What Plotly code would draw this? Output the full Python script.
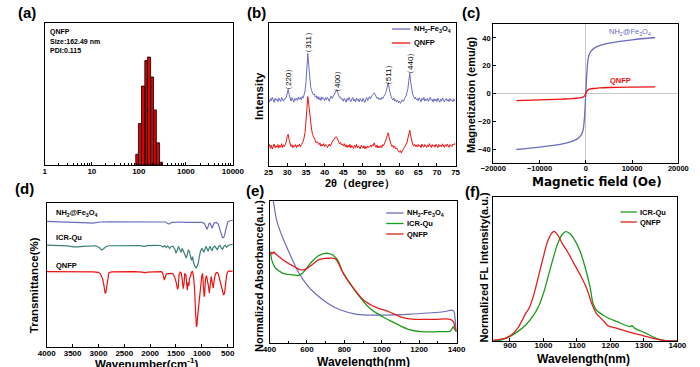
import plotly.graph_objects as go

W, H = 700, 367
def fx(p): return p / W
def fy(p): return 1 - p / H

ARIAL = "Liberation Sans, Arial, sans-serif"
DEJA = "DejaVu Sans, sans-serif"

# ---------------- (a) DLS size distribution ----------------
dls_bin_edges = [86, 98, 114, 134, 152, 178, 205, 236, 276, 318]
dls_intensity = [1.9, 7.3, 13.9, 18.4, 19.0, 15.5, 9.7, 3.9, 0.5]
dls_ticks = [1, 10, 100, 1000, 10000]
dls_info = ["QNFP", "Size:162.49 nm", "PDI:0.115"]

# ---------------- (b) XRD ----------------
xrd_two_theta = [25 + 0.25 * i for i in range(201)]
xrd_nh2 = [
    46.5, 44.8, 47.2, 45.6, 48.1, 46.0, 44.5, 47.4, 45.9, 46.8,
    44.9, 47.6, 46.2, 45.1, 48.0, 46.4, 45.3, 47.1, 46.9, 48.2,
    51.5, 53.6, 50.2, 47.0, 45.4, 47.8, 46.1, 44.7, 47.3, 46.0,
    47.5, 45.8, 48.3, 46.6, 47.9, 46.2, 48.6, 47.4, 49.8, 52.4,
    58.3, 68.5, 78.6, 70.4, 60.2, 55.4, 52.8, 51.0, 49.7, 50.4,
    48.2, 49.1, 47.0, 48.6, 46.3, 47.9, 45.8, 48.4, 46.9, 47.5,
    45.6, 47.8, 46.4, 48.1, 46.7, 45.2, 47.6, 48.9, 47.3, 48.4,
    49.5, 51.0, 52.6, 53.4, 51.2, 49.0, 47.8, 48.2, 46.4, 47.1,
    45.3, 47.4, 46.0, 44.6, 47.2, 45.8, 48.0, 46.3, 44.9, 46.7,
    47.9, 45.5, 46.8, 44.7, 47.5, 45.9, 46.9, 44.8, 47.2, 46.1,
    45.0, 47.3, 46.2, 44.4, 46.8, 47.9, 45.7, 47.4, 48.6, 47.0,
    48.8, 49.6, 50.4, 51.2, 50.0, 48.7, 47.2, 48.0, 46.5, 47.4,
    46.2, 48.1, 47.0, 48.5, 49.4, 50.6, 52.8, 55.9, 58.4, 54.1,
    50.3, 48.6, 47.2, 46.1, 47.5, 45.3, 46.4, 44.8, 45.9, 44.2,
    45.4, 43.8, 45.0, 46.3, 45.1, 47.0, 47.8, 48.9, 50.8, 54.2,
    59.8, 64.9, 58.6, 53.0, 50.4, 48.7, 47.1, 48.2, 46.3, 47.0,
    45.6, 47.8, 46.5, 45.0, 47.3, 46.1, 48.0, 45.4, 46.9, 45.8,
    47.4, 45.2, 46.7, 48.1, 45.9, 46.6, 44.7, 47.0, 45.5, 46.8,
    45.1, 47.5, 46.0, 44.6, 46.9, 45.3, 47.7, 46.2, 44.9, 46.5,
    47.2, 45.4, 46.6, 45.0, 47.1, 45.7, 46.3, 44.8, 46.9, 45.6,
    46.0]
xrd_qnfp = [
    13.2, 15.1, 12.4, 14.6, 11.8, 13.9, 15.4, 12.7, 14.2, 13.0,
    15.0, 12.6, 14.4, 13.1, 15.6, 12.9, 14.8, 13.6, 15.2, 17.0,
    20.8, 22.1, 18.4, 15.2, 13.6, 14.9, 12.8, 14.3, 13.4, 15.0,
    12.9, 14.6, 13.8, 15.3, 13.5, 14.9, 15.8, 17.2, 19.6, 23.5,
    30.8, 41.5, 48.5, 43.2, 35.6, 29.4, 25.8, 22.1, 20.6, 18.3,
    17.8, 16.2, 17.0, 15.4, 14.9, 16.1, 13.8, 15.2, 14.0, 15.6,
    13.6, 15.0, 14.3, 12.8, 14.7, 15.4, 13.9, 15.8, 16.7, 17.9,
    18.4, 19.6, 20.5, 19.9, 18.2, 17.0, 15.6, 16.4, 14.8, 15.5,
    14.1, 15.6, 13.4, 14.8, 12.9, 14.5, 13.2, 15.1, 12.6, 14.3,
    13.5, 12.2, 14.6, 13.0, 15.2, 12.8, 14.1, 13.4, 12.0, 14.4,
    13.1, 12.5, 14.2, 12.0, 13.7, 12.4, 14.0, 12.9, 13.5, 14.6,
    13.2, 15.0, 14.1, 16.2, 14.4, 13.0, 14.7, 12.6, 13.9, 12.8,
    14.3, 12.9, 15.0, 14.2, 15.9, 17.3, 19.0, 21.4, 23.2, 19.8,
    16.4, 15.2, 13.6, 14.5, 12.8, 13.7, 11.9, 12.6, 11.2, 10.4,
    9.6, 10.8, 9.1, 10.5, 11.6, 12.9, 13.8, 14.6, 16.3, 19.4,
    23.1, 25.0, 21.2, 17.5, 15.4, 14.1, 15.2, 13.6, 14.8, 13.3,
    15.0, 13.7, 14.5, 12.8, 15.3, 14.0, 13.2, 15.1, 14.4, 13.0,
    14.8, 13.4, 15.6, 14.1, 12.9, 15.0, 13.8, 14.6, 13.1, 15.2,
    14.0, 12.8, 15.1, 13.6, 14.7, 13.3, 15.5, 14.2, 13.0, 14.9,
    13.7, 15.3, 14.4, 13.1, 15.0, 14.3, 13.5, 15.4, 14.6, 15.8,
    15.2]
xrd_peak_labels = ["（220）", "（311）", "（400）", "（511）", "（440）"]
xrd_peak_pos = [30.2, 35.5, 43.3, 57.0, 62.8]
xrd_label_y = [60.8, 86.7, 58.7, 63.6, 72.0]

# ---------------- (c) VSM ----------------
vsm_field = [-15000, -10000, -5000, -3000, -2000, -1000, -600, -400, -200, -100, 0,
             100, 200, 400, 600, 1000, 2000, 3000, 5000, 10000, 15000]
vsm_nh2 = [-40.3, -38.6, -36.2, -34.5, -33.0, -30.0, -26.5, -22.0, -13.0, -6.5, 0,
           6.5, 13.0, 22.0, 26.5, 30.0, 33.0, 34.5, 36.2, 38.6, 40.3]
vsm_qnfp = [-5.1, -4.6, -4.0, -3.7, -3.4, -3.0, -2.6, -2.2, -1.5, -0.8, 0,
            0.8, 1.6, 2.4, 2.8, 3.3, 3.7, 4.0, 4.3, 4.6, 4.8]

# ---------------- (d) FTIR ----------------
ftir_nh2_wn = [4000, 3700, 3500, 3300, 3200, 3120, 3050, 2950, 2800, 2500, 2200, 2000, 1800,
               1700, 1650, 1620, 1580, 1500, 1400, 1300, 1200, 1100, 1000, 950, 920, 900,
               880, 860, 840, 820, 800, 780, 760, 720, 680, 650, 620, 600, 580, 560, 540,
               520, 500, 470, 440, 400]
ftir_nh2 = [87.2, 87.0, 86.8, 86.6, 86.2, 86.0, 86.4, 86.8, 86.9, 87.0, 87.0, 87.0, 87.0,
            86.8, 85.5, 85.6, 86.6, 86.9, 86.8, 86.6, 86.7, 86.6, 86.5, 85.8, 83.0, 81.7,
            83.5, 85.8, 86.0, 83.5, 82.4, 84.5, 86.3, 86.5, 85.2, 81.5, 77.5, 76.0, 75.9,
            77.5, 81.0, 85.0, 86.8, 87.5, 87.8, 88.0]
ftir_icr_wn = [4000, 3800, 3600, 3480, 3400, 3300, 3150, 3050, 2980, 2940, 2900, 2860, 2800,
               2600, 2400, 2200, 2120, 2050, 1900, 1800, 1750, 1720, 1690, 1660, 1620, 1600,
               1560, 1520, 1500, 1480, 1450, 1420, 1400, 1380, 1350, 1320, 1300, 1280, 1260,
               1240, 1220, 1200, 1180, 1160, 1130, 1110, 1090, 1070, 1050, 1030, 1000, 980,
               960, 940, 920, 900, 880, 860, 840, 820, 800, 780, 750, 720, 700, 680, 650,
               620, 600, 580, 550, 520, 500, 460, 400]
ftir_icr = [70.8, 70.6, 70.2, 69.6, 69.5, 69.9, 70.4, 70.3, 69.0, 67.4, 68.3, 69.6, 70.3,
            70.5, 70.6, 70.4, 69.9, 70.4, 70.6, 70.5, 69.5, 70.4, 69.0, 70.2, 68.4, 69.6,
            70.0, 67.8, 65.0, 67.5, 69.8, 67.0, 65.8, 68.5, 66.2, 63.5, 61.8, 64.5, 67.5,
            66.0, 62.5, 60.2, 62.8, 58.5, 55.8, 54.9, 56.5, 58.0, 62.5, 66.0, 68.5, 66.8,
            65.8, 67.8, 69.9, 68.2, 66.5, 68.5, 70.0, 68.0, 67.2, 69.2, 70.0, 68.5, 67.4,
            69.5, 70.5, 68.6, 67.8, 69.5, 70.6, 69.3, 70.2, 71.0, 71.2]
ftir_qnfp_wn = [4000, 3700, 3500, 3300, 3100, 3000, 2960, 2940, 2920, 2900, 2885, 2870, 2855,
                2840, 2820, 2800, 2750, 2500, 2300, 2150, 2100, 2050, 1900, 1780, 1760, 1740,
                1725, 1700, 1680, 1640, 1600, 1560, 1520, 1490, 1470, 1455, 1440, 1420, 1400,
                1380, 1360, 1345, 1330, 1310, 1295, 1280, 1265, 1250, 1240, 1220, 1200, 1180,
                1160, 1140, 1120, 1105, 1095, 1080, 1060, 1040, 1020, 1000, 985, 970, 955,
                945, 930, 910, 890, 870, 855, 840, 820, 800, 780, 760, 740, 720, 700, 680,
                650, 620, 600, 580, 560, 540, 520, 500, 470, 440, 400]
ftir_qnfp = [52.3, 52.3, 52.4, 52.4, 52.2, 51.8, 50.6, 49.0, 47.5, 44.0, 39.5, 37.3, 38.0,
             42.0, 48.5, 51.5, 52.2, 52.4, 52.4, 52.0, 51.5, 52.0, 52.3, 52.4, 51.5, 47.0,
             46.5, 49.5, 50.8, 51.0, 51.2, 50.8, 48.0, 44.0, 40.0, 42.0, 50.5, 52.0, 51.5,
             47.0, 40.5, 44.0, 51.0, 50.5, 44.0, 39.4, 45.0, 42.5, 47.5, 49.0, 52.0, 52.5,
             49.0, 40.0, 24.0, 14.1, 15.0, 22.0, 30.0, 34.0, 42.0, 49.5, 51.0, 45.0, 35.0,
             37.0, 47.0, 49.5, 46.0, 42.0, 37.3, 42.5, 49.0, 45.0, 40.8, 46.5, 50.5, 51.5,
             51.8, 50.5, 46.0, 40.5, 38.0, 36.1, 37.5, 44.0, 50.0, 52.2, 52.8, 52.5, 52.8]
ftir_names = ["NH<sub>2</sub>@Fe<sub>3</sub>O<sub>4</sub>", "ICR-Qu", "QNFP"]

# ---------------- (e) UV-vis-NIR ----------------
uv_nh2_wl = [400, 410, 420, 438, 455, 472, 515, 558, 601, 644, 713, 781, 867, 988, 1159,
             1331, 1374, 1385, 1392, 1398, 1400]
uv_nh2 = [116, 108, 100.5, 86.6, 79.5, 73.7, 60.8, 49.1, 40.8, 34.9, 27.9, 23.2, 20.2, 19.7,
          20.4, 22.0, 23.2, 22.5, 17.0, 9.1, 8.0]
uv_icr_wl = [400, 407, 412, 429, 450, 472, 524, 558, 575, 592, 627, 661, 690, 704, 720, 738,
             764, 790, 824, 867, 936, 1005, 1074, 1142, 1211, 1314, 1366, 1378, 1383, 1390,
             1400]
uv_icr = [65.0, 62.0, 58.5, 53.3, 50.8, 49.1, 48.0, 47.6, 49.0, 51.6, 57.4, 61.4, 63.0, 63.2,
          63.0, 62.0, 58.5, 50.3, 43.2, 35.0, 24.4, 18.5, 13.8, 9.6, 8.0, 8.0, 8.4, 10.5,
          11.5, 9.5, 8.0]
uv_qnfp_wl = [400, 407, 412, 418, 422, 429, 450, 472, 495, 515, 540, 558, 575, 592, 610, 627,
              645, 661, 680, 704, 747, 760, 773, 799, 850, 902, 970, 1039, 1108, 1177, 1280,
              1366, 1383, 1392, 1400]
uv_qnfp = [62.0, 62.7, 63.8, 63.0, 64.2, 63.2, 60.8, 58.5, 56.6, 55.0, 53.2, 51.9, 51.5, 51.9,
           53.3, 55.0, 57.0, 58.5, 59.3, 59.6, 59.6, 58.0, 55.0, 48.0, 38.5, 30.3, 25.1, 22.0,
           18.1, 16.7, 16.7, 16.7, 15.0, 11.0, 8.0]

# ---------------- (f) Fluorescence ----------------
fl_icr_wl = [850, 875, 899, 923, 947, 971, 985, 1000, 1014, 1029, 1043, 1057, 1067, 1081,
             1096, 1110, 1124, 1139, 1148, 1158, 1182, 1220, 1259, 1264, 1273, 1307, 1336,
             1364, 1400]
fl_icr = [0.0, 0.7, 3.0, 6.5, 11.1, 18.1, 23.8, 33.1, 44.7, 57.4, 67.8, 74.3, 75.9, 74.1,
          69.0, 62.0, 51.6, 37.7, 26.2, 21.5, 17.4, 13.4, 10.0, 10.6, 8.8, 5.3, 1.8, 0.2, 0.0]
fl_qnfp_wl = [850, 856, 885, 904, 923, 937, 947, 957, 971, 985, 1000, 1014, 1029, 1033, 1043,
              1057, 1072, 1091, 1110, 1129, 1144, 1158, 1182, 1192, 1220, 1259, 1297, 1336,
              1364, 1400]
fl_qnfp = [0.3, 0.7, 1.8, 4.2, 8.8, 14.6, 19.2, 22.7, 32.0, 44.7, 58.6, 70.2, 75.9, 76.0, 73.6,
           67.4, 62.0, 53.9, 45.8, 36.6, 26.2, 19.2, 13.4, 10.6, 8.8, 6.0, 3.7, 1.4, 0.2, 0.0]

BLUE = "#6b6bbf"
RED = "#ee1111"
TEAL = "#3b7f76"
GREEN = "#1a9a1a"
RED2 = "#e0201e"

fig = go.Figure()

# (a) bars as closed polygons on the log axis
poly_x, poly_y = [], []
for left, right, h in zip(dls_bin_edges[:-1], dls_bin_edges[1:], dls_intensity):
    poly_x += [left, left, right, right, left, None]
    poly_y += [0, h, h, 0, 0, None]
fig.add_trace(go.Scatter(x=poly_x, y=poly_y, mode="lines", fill="toself", fillcolor="#e00000",
                         line=dict(color="black", width=0.8), xaxis="x", yaxis="y"))

# (b)
fig.add_trace(go.Scatter(x=xrd_two_theta, y=xrd_nh2, mode="lines", line=dict(color=BLUE, width=1),
                         xaxis="x2", yaxis="y2"))
fig.add_trace(go.Scatter(x=xrd_two_theta, y=xrd_qnfp, mode="lines", line=dict(color=RED, width=1),
                         xaxis="x2", yaxis="y2"))
# (c)
fig.add_trace(go.Scatter(x=vsm_field, y=vsm_nh2, mode="lines", line=dict(color=BLUE, width=1.3, shape="spline"),
                         xaxis="x3", yaxis="y3"))
fig.add_trace(go.Scatter(x=vsm_field, y=vsm_qnfp, mode="lines", line=dict(color=RED, width=1.3, shape="spline"),
                         xaxis="x3", yaxis="y3"))
# (d)
fig.add_trace(go.Scatter(x=ftir_nh2_wn, y=ftir_nh2, mode="lines", line=dict(color=BLUE, width=1.2),
                         xaxis="x4", yaxis="y4"))
fig.add_trace(go.Scatter(x=ftir_icr_wn, y=ftir_icr, mode="lines", line=dict(color=TEAL, width=1.2),
                         xaxis="x4", yaxis="y4"))
fig.add_trace(go.Scatter(x=ftir_qnfp_wn, y=ftir_qnfp, mode="lines", line=dict(color=RED, width=1.2),
                         xaxis="x4", yaxis="y4"))
# (e)
fig.add_trace(go.Scatter(x=uv_nh2_wl, y=uv_nh2, mode="lines", line=dict(color=BLUE, width=1.2, shape="spline"),
                         xaxis="x5", yaxis="y5"))
fig.add_trace(go.Scatter(x=uv_icr_wl, y=uv_icr, mode="lines", line=dict(color=GREEN, width=1.3, shape="spline"),
                         xaxis="x5", yaxis="y5"))
fig.add_trace(go.Scatter(x=uv_qnfp_wl, y=uv_qnfp, mode="lines", line=dict(color=RED2, width=1.3, shape="spline"),
                         xaxis="x5", yaxis="y5"))
# (f)
fig.add_trace(go.Scatter(x=fl_icr_wl, y=fl_icr, mode="lines", line=dict(color=GREEN, width=1.3, shape="spline"),
                         xaxis="x6", yaxis="y6"))
fig.add_trace(go.Scatter(x=fl_qnfp_wl, y=fl_qnfp, mode="lines", line=dict(color=RED2, width=1.3, shape="spline"),
                         xaxis="x6", yaxis="y6"))

TICKFONT = dict(family=ARIAL, size=8, color="black", weight="bold")

def xax(x0, x1, anchor, rng, **kw):
    d = dict(domain=[fx(x0), fx(x1)], anchor=anchor, range=rng, showline=True, linecolor="black",
             linewidth=1.3, mirror=True, ticks="inside", ticklen=3, tickwidth=1, tickcolor="black",
             showgrid=False, zeroline=False, tickfont=TICKFONT, fixedrange=True,
             ticklabelstandoff=-2)
    d.update(kw)
    return d

def yax(y0, y1, anchor, rng, **kw):
    d = dict(domain=[fy(y1), fy(y0)], anchor=anchor, range=rng, showline=True, linecolor="black",
             linewidth=1.3, mirror=True, ticks="", showticklabels=False, showgrid=False,
             zeroline=False, tickfont=TICKFONT, fixedrange=True)
    d.update(kw)
    return d

minor_log = [m * 10 ** k for k in range(4) for m in range(2, 10)]

layout = dict(
    width=W, height=H, margin=dict(l=0, r=0, t=0, b=0), autosize=False,
    paper_bgcolor="white", plot_bgcolor="white", showlegend=False,
    xaxis=xax(33, 228, "y", [0, 4], type="log", tickmode="array", tickvals=dls_ticks,
              ticktext=[str(v) for v in dls_ticks],
              minor=dict(tickmode="array", tickvals=minor_log, ticks="inside", ticklen=2,
                         tickcolor="black", showgrid=False)),
    yaxis=yax(23, 165, "x", [0, 25]),
    xaxis2=xax(265, 459, "y2", [25, 75], tickmode="linear", tick0=25, dtick=5),
    yaxis2=yax(23, 166, "x2", [0, 100]),
    xaxis3=xax(498, 690, "y3", [-20000, 20000], tickmode="linear", tick0=-20000, dtick=10000,
               tickformat="d", zeroline=True, zerolinecolor="#c8c8c8", zerolinewidth=1,
               tickfont=dict(family=ARIAL, size=7.5, color="black", weight="bold")),
    yaxis3=yax(24, 163, "x3", [-50, 50], showticklabels=True, ticks="inside", ticklen=3,
               tickcolor="black", tickmode="linear", tick0=-40, dtick=20, zeroline=True,
               zerolinecolor="#c8c8c8", zerolinewidth=1,
               tickfont=dict(family=ARIAL, size=7.5, color="black", weight="bold")),
    xaxis4=xax(35, 228, "y4", [4000, 400], tickmode="linear", tick0=500, dtick=500),
    yaxis4=yax(203, 347, "x4", [0, 100]),
    xaxis5=xax(266, 460, "y5", [400, 1400], tickmode="linear", tick0=400, dtick=200,
               minor=dict(dtick=100, ticks="inside", ticklen=2, tickcolor="black", showgrid=False)),
    yaxis5=yax(201, 343, "x5", [0, 100]),
    xaxis6=xax(498, 689, "y6", [850, 1400], tickmode="linear", tick0=900, dtick=100,
               ticklabelstandoff=-4),
    yaxis6=yax(197, 341, "x6", [0, 100]),
)
fig.update_layout(**layout)

anns = []
def ann(text, x, y, size, color="black", angle=0, xanchor="center", family=ARIAL, bold=True):
    anns.append(dict(text=text, x=fx(x), y=fy(y), xref="paper", yref="paper", showarrow=False,
                     xanchor=xanchor, yanchor="middle", textangle=angle,
                     font=dict(family=family, size=size, color=color,
                               weight="bold" if bold else "normal")))

# panel letters
for lab, x, y in [("(a)", 14, 12), ("(b)", 252, 12), ("(c)", 475, 12),
                  ("(d)", 12, 188), ("(e)", 251, 190), ("(f)", 476, 191)]:
    ann(lab, x, y, 15)

# (a) inset text
for i, t in enumerate(dls_info):
    ann(t, 36, 32 + 9.3 * i, 7, xanchor="left")

# (b)
ann("Intensity", 255, 96, 11.5, angle=-90)
ann("2θ（degree）", 360, 183.5, 11)
for t, xp, yv in zip(xrd_peak_labels, xrd_peak_pos, xrd_label_y):
    anns.append(dict(text=t, x=xp, y=yv, xref="x2", yref="y2", showarrow=False, textangle=-90,
                     font=dict(family=ARIAL, size=8, color="black")))
ann("NH<sub>2</sub>-Fe<sub>3</sub>O<sub>4</sub>", 414, 29, 7.5, xanchor="left")
ann("QNFP", 414, 43, 7.5, xanchor="left")

# (c)
ann("Magnetization (emu/g)", 475, 95, 11, angle=-90)
ann("Magnetic field (Oe)", 606, 182, 12, family=DEJA)
ann("NH<sub>2</sub>@Fe<sub>3</sub>O<sub>4</sub>", 664, 32, 7.5, color=BLUE, xanchor="right", bold=False)
ann("QNFP", 630, 80, 7.5, color=RED)

# (d)
ann("Transmittance(%)", 22, 285, 11.5, angle=-90)
ann("Wavenumber(cm<sup>-1</sup>)", 138, 362.5, 11.5)
for name, y in zip(ftir_names, [213, 237, 265]):
    ann(name, 42, y, 7.5, xanchor="left")

# (e)
ann("Normalized Absorbance(a.u.)", 255, 276, 11, angle=-90)
ann("Wavelength(nm)", 363, 362, 12)
for name, y in zip(["NH<sub>2</sub>-Fe<sub>3</sub>O<sub>4</sub>", "ICR-Qu", "QNFP"], [213, 223.5, 234]):
    ann(name, 407, y, 7.5, xanchor="left")

# (f)
ann("Normalized FL Intensity(a.u.)", 488, 268, 11, angle=-90)
ann("Wavelength(nm)", 592, 359, 12)
for name, y in zip(["ICR-Qu", "QNFP"], [212, 222]):
    ann(name, 648, y, 7.5, xanchor="left")

fig.update_layout(annotations=anns)

shapes = []
def seg(x0, x1, y, color):
    shapes.append(dict(type="line", xref="paper", yref="paper", x0=fx(x0), x1=fx(x1),
                       y0=fy(y), y1=fy(y), line=dict(color=color, width=1.3)))
seg(393, 412, 29, BLUE)
seg(393, 412, 43, RED)
seg(387, 405, 213, BLUE)
seg(387, 405, 223.5, GREEN)
seg(387, 405, 234, RED2)
seg(630, 647, 212, GREEN)
seg(630, 647, 222, RED2)
fig.update_layout(shapes=shapes)

fig.write_html("out.html", config={"displayModeBar": False},
               post_script="document.body.style.margin='0';document.body.style.padding='0';")
